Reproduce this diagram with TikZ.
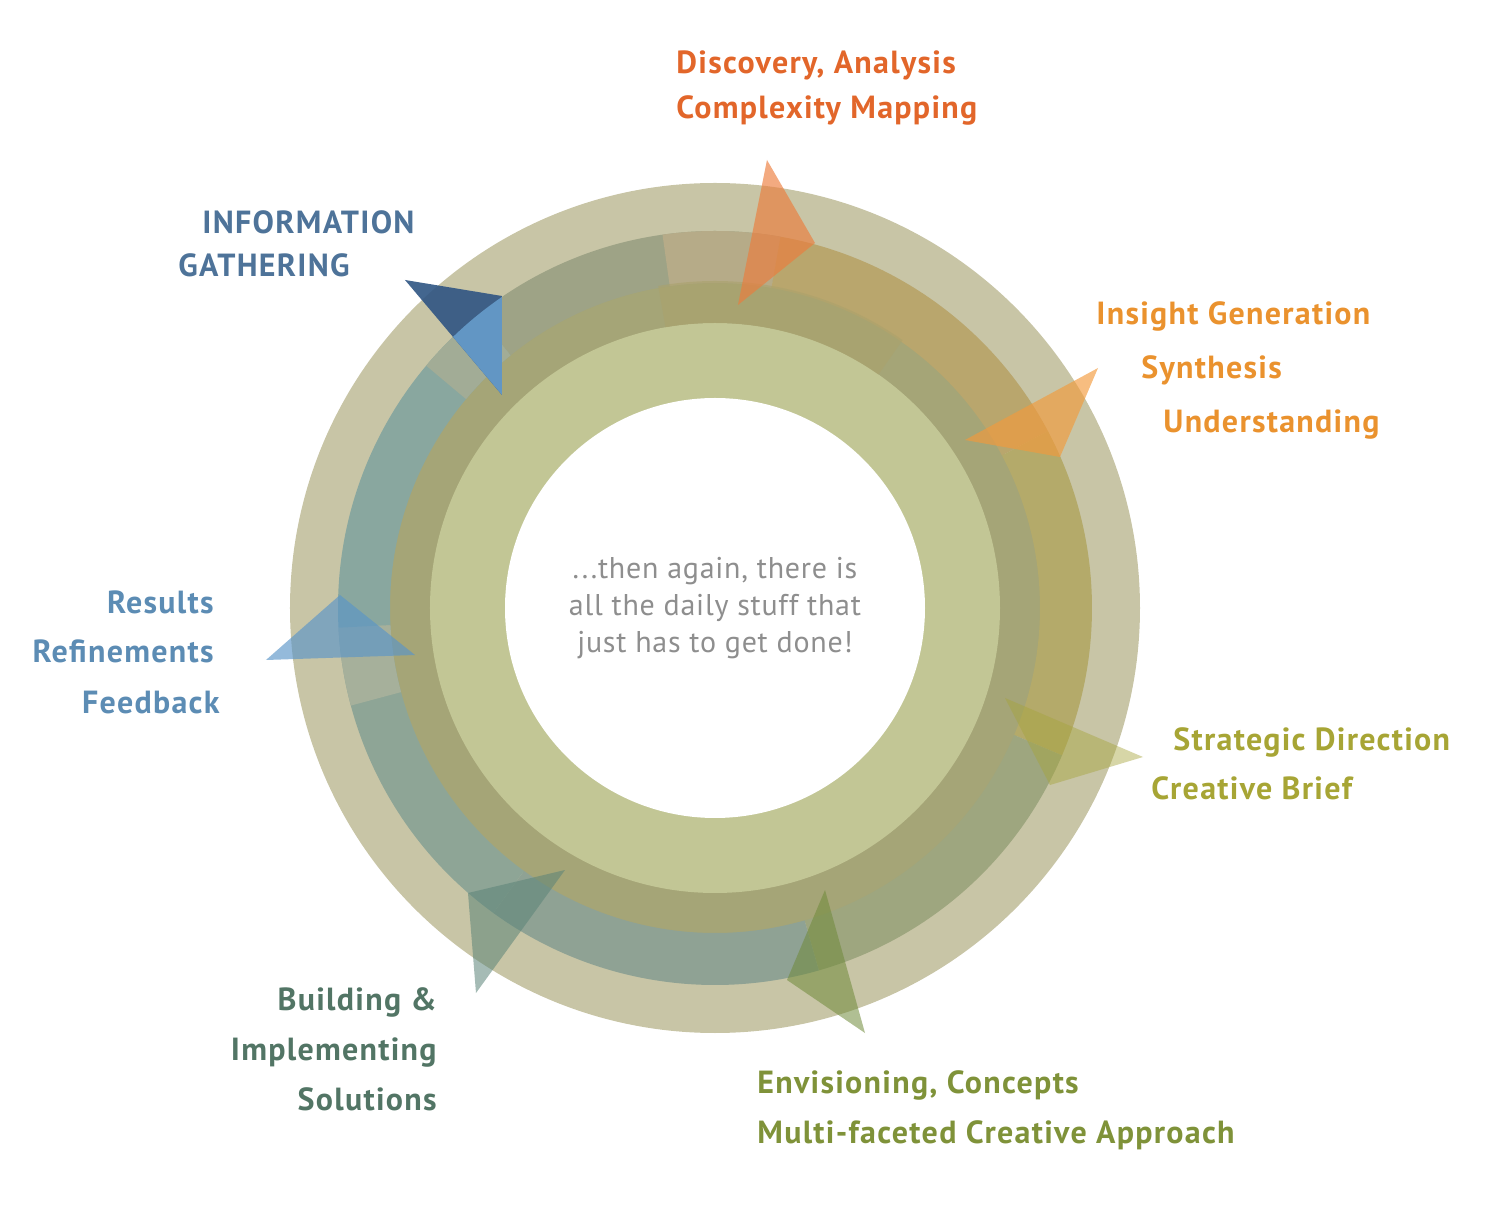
\documentclass[tikz,border=0pt]{standalone}
\usepackage{fontspec}
\setmainfont{PT Sans}
\newfontfamily\lblfont{PT Sans}[LetterSpace=4]
\newfontfamily\midfont{PT Sans}[LetterSpace=2.5]
\usepackage{xcolor}
\usepackage{tikz}

\definecolor{ringout}{HTML}{C8C5A6}
\definecolor{ringdark}{HTML}{A5A577}
\definecolor{ringlight}{HTML}{C2C695}
\definecolor{txtdisc}{HTML}{E2662A}
\definecolor{txtins}{HTML}{EA922E}
\definecolor{txtstrat}{HTML}{A7A535}
\definecolor{txtenv}{HTML}{7F9239}
\definecolor{txtbuild}{HTML}{527565}
\definecolor{txtres}{HTML}{5C8CB4}
\definecolor{txtinfo}{HTML}{4E7399}
\definecolor{txtmid}{HTML}{8E8E8E}
\definecolor{bandtop}{HTML}{9EA386}
\definecolor{bandtan}{HTML}{B6AB88}
\definecolor{bandora}{HTML}{B9A66D}
\definecolor{bandoli}{HTML}{B4AA6A}
\definecolor{bandgrn}{HTML}{9EA67F}
\definecolor{bandbot}{HTML}{8FA294}
\definecolor{bandlow}{HTML}{8EA596}
\definecolor{bandpale}{HTML}{A6B09B}
\definecolor{bandteal}{HTML}{89A79F}
\definecolor{bandgray}{HTML}{A2AC96}
\definecolor{ringtan}{HTML}{AAA26C}
\definecolor{headinfo}{HTML}{2F5583}
\definecolor{headinfolt}{HTML}{6296C4}
\definecolor{headdisc}{HTML}{EC7C3C}
\definecolor{headins}{HTML}{F29A3C}
\definecolor{headstrat}{HTML}{A6A43C}
\definecolor{headenv}{HTML}{6F8A3A}
\definecolor{headbuild}{HTML}{5B8478}
\definecolor{headres}{HTML}{5A95C8}

% one piece of the cycle band: colour, from angle, to angle
\newcommand{\bandseg}[3]{%
  \fill[#1] (#2:377) arc[start angle=#2, end angle=#3, radius=377]
    -- (#3:325) arc[start angle=#3, end angle=#2, radius=325] -- cycle;}

\begin{document}
\begin{tikzpicture}[
    x=0.5pt, y=0.5pt,
    lbl/.style={inner sep=0pt, font=\lblfont\bfseries\fontsize{16}{18}\selectfont},
    head/.style={fill opacity=0.65}
]
    \useasboundingbox (-715,-606) rectangle (778,608);

    \fill[ringout] (0,0) circle[radius=425];
    \fill[ringdark] (0,0) circle[radius=327];
    \fill[ringlight] (0,0) circle[radius=285];
    \fill[white] (0,0) circle[radius=210];

    \bandseg{bandtop}{80}{129}
    \bandseg{bandtan}{80}{98}
    \bandseg{bandora}{28}{80}
    \bandseg{bandoli}{-23}{28}
    \bandseg{bandgrn}{-74}{-23}
    \bandseg{bandbot}{-126}{-74}
    \bandseg{bandlow}{-177}{-126}
    \bandseg{bandpale}{-177}{-165}
    \bandseg{bandteal}{129}{183}
    \bandseg{bandgray}{129}{140}
    \fill[ringtan, fill opacity=0.6] (55:327) arc[start angle=55, end angle=100, radius=327]
        -- (100:285) arc[start angle=100, end angle=55, radius=285] -- cycle;

    % arrow heads
    \fill[headinfo, fill opacity=0.9] (-310,328) -- (-213,312) -- (-213,213) -- cycle;
    \begin{scope}
        \clip (0,0) circle[radius=377];
        \fill[headinfolt] (-310,328) -- (-213,312) -- (-213,213) -- cycle;
    \end{scope}
    \fill[headdisc, head] (52,448) -- (100,365) -- (23,303) -- cycle;
    \fill[headins, head] (383,240) -- (345,151) -- (250,168) -- cycle;
    \fill[headstrat, fill opacity=0.45] (428,-149) -- (290,-90) -- (335,-177) -- cycle;
    \fill[headenv, fill opacity=0.55] (150,-425) -- (110,-282) -- (72,-372) -- cycle;
    \fill[headbuild, fill opacity=0.55] (-239,-385) -- (-247,-285) -- (-150,-262) -- cycle;
    \fill[headres, fill opacity=0.65] (-449,-52) -- (-375,13) -- (-300,-47) -- cycle;

    \node[align=center, text=txtmid, font=\midfont\fontsize{15}{18.5}\selectfont] (daily) at (0,0)
        {...then again, there is\\all the daily stuff that\\just has to get done!};

    \node[lbl, text=txtdisc, anchor=base west] (disc) at (-39,534) {Discovery, Analysis};
    \node[lbl, text=txtdisc, anchor=base west] (cmap) at (-39,489) {Complexity Mapping};

    \node[lbl, text=txtinfo, anchor=base west] (info) at (-513,374) {INFORMATION};
    \node[lbl, text=txtinfo, anchor=base west] (gath) at (-537,331) {GATHERING};

    \node[lbl, text=txtins, anchor=base west] (ins) at (381,283) {Insight Generation};
    \node[lbl, text=txtins, anchor=base west] (syn) at (426,229) {Synthesis};
    \node[lbl, text=txtins, anchor=base west] (und) at (448,175) {Understanding};

    \node[lbl, text=txtstrat, anchor=base west] (strat) at (458,-143) {Strategic Direction};
    \node[lbl, text=txtstrat, anchor=base west] (brief) at (436,-192) {Creative Brief};

    \node[lbl, text=txtenv, anchor=base west] (env) at (42,-485) {Envisioning, Concepts};
    \node[lbl, text=txtenv, anchor=base west] (multi) at (42,-535) {Multi-faceted Creative Approach};

    \node[lbl, text=txtbuild, anchor=base east] (build) at (-278,-402) {Building \&};
    \node[lbl, text=txtbuild, anchor=base east] (impl) at (-278,-452) {Implementing};
    \node[lbl, text=txtbuild, anchor=base east] (sol) at (-278,-502) {Solutions};

    \node[lbl, text=txtres, anchor=base east] (res) at (-501,-6) {Results};
    \node[lbl, text=txtres, anchor=base east] (ref) at (-501,-55) {Refinements};
    \node[lbl, text=txtres, anchor=base east] (feed) at (-495,-106) {Feedback};
\end{tikzpicture}
\end{document}
